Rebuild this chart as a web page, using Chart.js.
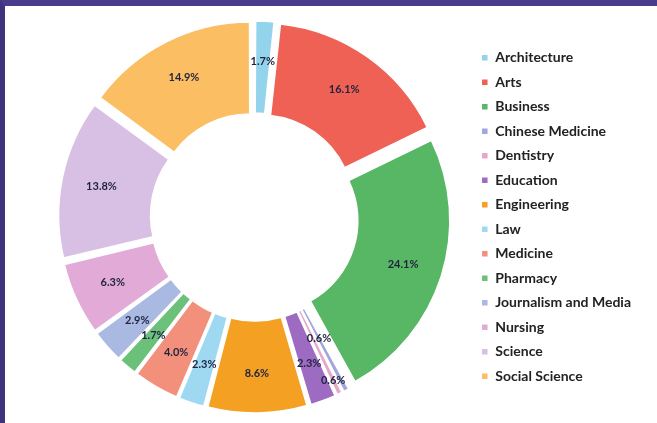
<!DOCTYPE html>
<html>
<head>
<meta charset="utf-8">
<script src="https://cdn.jsdelivr.net/npm/chart.js@4.4.0/dist/chart.umd.min.js"></script>
<style>
html, body { margin: 0; padding: 0; background: #fff; }
#frame { width: 652px; height: 417px; border-top: 6px solid #4b3b8c; border-left: 5px solid #3f3380; background: #fff; }
canvas { display: block; }
</style>
</head>
<body>
<div id="frame"><canvas id="canvas" width="652" height="417"></canvas></div>
<script>
var faculties = ["Architecture", "Arts", "Business", "Chinese Medicine", "Dentistry", "Education",
                 "Engineering", "Law", "Medicine", "Pharmacy", "Journalism and Media", "Nursing",
                 "Science", "Social Science"];
var shares = [1.7, 16.1, 24.1, 0.6, 0.6, 2.3, 8.6, 2.3, 4.0, 1.7, 2.9, 6.3, 13.8, 14.9];
var sliceColors = ["#93d3eb", "#ef6154", "#58b764", "#a3a6dc", "#e7a7cb", "#9d6cc2", "#f4a023",
                   "#9fd9f1", "#f2907c", "#6bc17a", "#aab9e2", "#e2aad6", "#d7c0e4", "#fcbe63"];

var explode = 12;
var total = shares.reduce(function(a, b) { return a + b; }, 0);

// chart.js shifts small arcs further than big ones, so scale offset to get the same shift everywhere
function sliceOffset(ctx) {
    var c = shares[ctx.dataIndex] / total * Math.PI * 2;
    var fix = 1 - Math.sin(Math.min(Math.PI, c));
    return 4 * explode / (1 + fix);
}

// crowded small slices get their label moved in or out a bit
var labelNudge = { 3: -18, 4: 25 };

var pctLabels = {
    id: 'pctLabels',
    afterDatasetsDraw: function(chart) {
        var ctx = chart.ctx;
        var meta = chart.getDatasetMeta(0);
        ctx.save();
        ctx.font = 'bold 11px Lato';
        ctx.fillStyle = '#1f2340';
        ctx.textAlign = 'center';
        ctx.textBaseline = 'middle';
        meta.data.forEach(function(arc, i) {
            var mid = (arc.startAngle + arc.endAngle) / 2;
            var r = (arc.innerRadius + arc.outerRadius) / 2 + explode + 6 + (labelNudge[i] || 0);
            ctx.fillText(shares[i].toFixed(1) + '%', arc.x + Math.cos(mid) * r, arc.y + Math.sin(mid) * r);
        });
        ctx.restore();
    }
};

window.onload = function() {
    var ctx = document.getElementById("canvas").getContext("2d");
    window.myDoughnut = new Chart(ctx, {
        type: 'doughnut',
        data: {
            labels: faculties,
            datasets: [{
                data: shares,
                backgroundColor: sliceColors,
                borderColor: '#ffffff',
                borderWidth: 1.5,
                offset: sliceOffset,
                hoverOffset: 0,
                radius: 184,
                cutout: '50%'
            }]
        },
        options: {
            responsive: false,
            animation: false,
            layout: { padding: { left: 33, right: 16, top: 6, bottom: 1 } },
            plugins: {
                legend: {
                    position: 'right',
                    align: 'center',
                    labels: {
                        boxWidth: 7,
                        boxHeight: 7,
                        padding: 10.5,
                        color: '#222222',
                        font: { family: 'Lato', size: 14, weight: 'bold' }
                    }
                },
                tooltip: { enabled: false }
            }
        },
        plugins: [pctLabels]
    });
};
</script>
</body>
</html>
